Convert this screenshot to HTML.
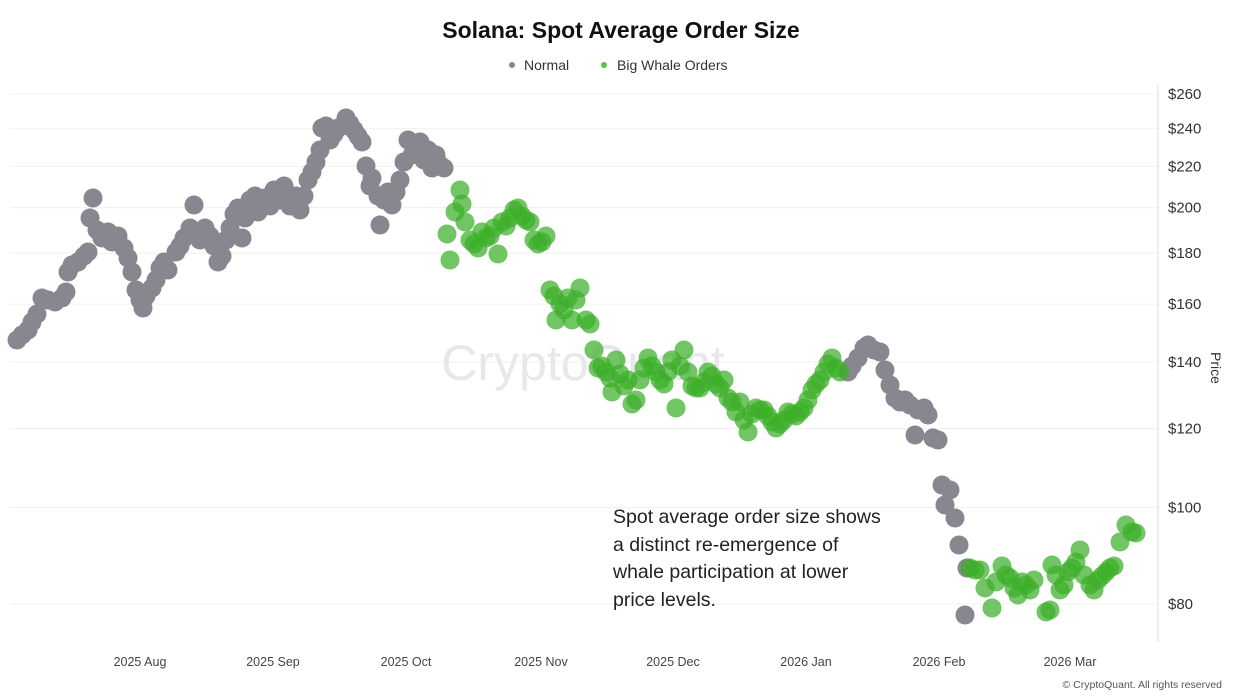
<!DOCTYPE html>
<html><head><meta charset="utf-8"><style>
body{margin:0;background:#fff;width:1241px;height:695px;overflow:hidden;font-family:"Liberation Sans",sans-serif}
</style></head><body>
<svg width="1241" height="695" xmlns="http://www.w3.org/2000/svg" font-family="Liberation Sans, sans-serif">
<text x="621" y="38" text-anchor="middle" font-size="23" font-weight="bold" fill="#111">Solana: Spot Average Order Size</text>
<circle cx="512" cy="65" r="3" fill="#88868f"/><text x="524" y="70" font-size="14" fill="#333">Normal</text>
<circle cx="604" cy="65" r="3" fill="#5cc04a"/><text x="617" y="70" font-size="14" fill="#333">Big Whale Orders</text>
<g stroke="#f0f0f2" stroke-width="1" id="grid"></g>
<line x1="1158" y1="85" x2="1158" y2="642" stroke="#dcdce0"/>
<text x="583" y="380" text-anchor="middle" font-size="50" fill="#e8e8ec">CryptoQuant</text>
<g id="dots"></g>
<g font-size="15" fill="#333" id="ylab"></g>
<text transform="translate(1211,368) rotate(90)" text-anchor="middle" font-size="14" fill="#333">Price</text>
<g font-size="12.5" fill="#444" text-anchor="middle">
<text x="140" y="666">2025 Aug</text><text x="273" y="666">2025 Sep</text><text x="406" y="666">2025 Oct</text><text x="541" y="666">2025 Nov</text><text x="673" y="666">2025 Dec</text><text x="806" y="666">2026 Jan</text><text x="939" y="666">2026 Feb</text><text x="1070" y="666">2026 Mar</text>
</g>
<g font-size="19.5" fill="#222">
<text x="613" y="523">Spot average order size shows</text>
<text x="613" y="551">a distinct re-emergence of</text>
<text x="613" y="578">whale participation at lower</text>
<text x="613" y="606">price levels.</text>
</g>
<text x="1222" y="688" text-anchor="end" font-size="10.5" fill="#555">© CryptoQuant. All rights reserved</text>
</svg>
<script>
const ns="http://www.w3.org/2000/svg";
const g=document.getElementById('grid'),yl=document.getElementById('ylab'),d=document.getElementById('dots');
[260,240,220,200,180,160,140,120,100,80].forEach(p=>{const y=604-432.6*Math.log(p/80);
const l=document.createElementNS(ns,'line');l.setAttribute('x1',10);l.setAttribute('x2',1158);l.setAttribute('y1',y);l.setAttribute('y2',y);g.appendChild(l);
const t=document.createElementNS(ns,'text');t.setAttribute('x',1168);t.setAttribute('y',y+5);t.textContent='$'+p;yl.appendChild(t);});
const gray=[[17,340],[22,335],[28,330],[32,322],[37,314],[42,298],[48,300],[55,302],[62,298],[66,292],[68,272],[72,265],[78,262],[84,256],[88,252],[90,218],[93,198],[97,230],[102,238],[108,232],[112,242],[118,236],[124,248],[128,258],[132,272],[136,290],[140,300],[143,308],[146,296],[152,288],[156,280],[160,268],[164,262],[168,270],[176,252],[180,246],[184,238],[190,228],[194,205],[196,232],[200,240],[205,228],[210,236],[214,246],[218,262],[222,256],[226,240],[230,228],[234,214],[238,208],[242,238],[245,218],[250,200],[255,196],[258,212],[262,205],[265,198],[270,206],[274,190],[280,200],[284,186],[290,206],[296,196],[300,210],[304,196],[308,180],[312,172],[316,162],[320,150],[322,128],[326,126],[330,140],[334,134],[338,128],[342,126],[346,118],[350,124],[354,130],[358,136],[362,142],[366,166],[370,186],[372,178],[378,196],[380,225],[384,200],[388,192],[392,205],[396,192],[400,180],[404,162],[408,140],[412,155],[416,146],[420,142],[424,160],[428,150],[432,168],[436,155],[440,165],[444,168],
[848,372],[852,366],[858,358],[864,348],[868,345],[874,350],[880,352],[885,370],[890,385],[895,398],[900,402],[905,400],[910,405],[918,410],[924,408],[928,415],[915,435],[933,438],[938,440],[942,485],[950,490],[945,505],[955,518],[959,545],[967,568],[965,615]];
const green=[[447,234],[450,260],[455,212],[460,190],[462,204],[465,222],[470,240],[474,244],[478,248],[482,232],[486,238],[490,236],[494,228],[498,254],[502,222],[506,226],[510,218],[514,210],[518,208],[522,216],[526,220],[530,222],[534,240],[538,244],[542,242],[546,236],[550,290],[554,296],[556,320],[560,304],[564,310],[568,298],[572,320],[576,300],[580,288],[586,320],[590,324],[594,350],[598,368],[602,366],[606,372],[610,378],[612,392],[616,360],[620,374],[624,386],[628,380],[632,404],[636,400],[640,380],[644,368],[648,358],[652,366],[656,372],[660,380],[664,384],[668,372],[672,360],[676,408],[680,366],[684,350],[688,372],[692,386],[696,388],[700,388],[704,382],[708,372],[712,376],[716,384],[720,388],[724,380],[728,398],[732,402],[736,412],[740,402],[744,420],[748,432],[752,414],[756,408],[760,410],[764,410],[768,416],[772,422],[776,428],[780,424],[784,420],[788,412],[792,414],[796,416],[800,412],[804,408],[808,400],[812,390],[816,384],[820,380],[824,372],[828,364],[832,358],[836,368],[840,372],
[970,568],[975,570],[980,570],[985,588],[992,608],[996,582],[1002,566],[1006,575],[1010,578],[1014,588],[1018,595],[1022,582],[1026,585],[1030,590],[1034,580],[1046,612],[1050,610],[1052,565],[1056,575],[1060,590],[1064,585],[1068,572],[1072,568],[1076,562],[1080,550],[1084,575],[1090,585],[1094,590],[1098,580],[1102,576],[1106,572],[1110,568],[1114,566],[1120,542],[1126,525],[1132,532],[1136,533]];
gray.forEach(p=>{const c=document.createElementNS(ns,'circle');c.setAttribute('cx',p[0]);c.setAttribute('cy',p[1]);c.setAttribute('r',9.5);c.setAttribute('fill','#88868f');d.appendChild(c);});
green.forEach(p=>{const c=document.createElementNS(ns,'circle');c.setAttribute('cx',p[0]);c.setAttribute('cy',p[1]);c.setAttribute('r',9.5);c.setAttribute('fill','rgba(60,175,40,0.72)');d.appendChild(c);});
</script>
</body></html>
